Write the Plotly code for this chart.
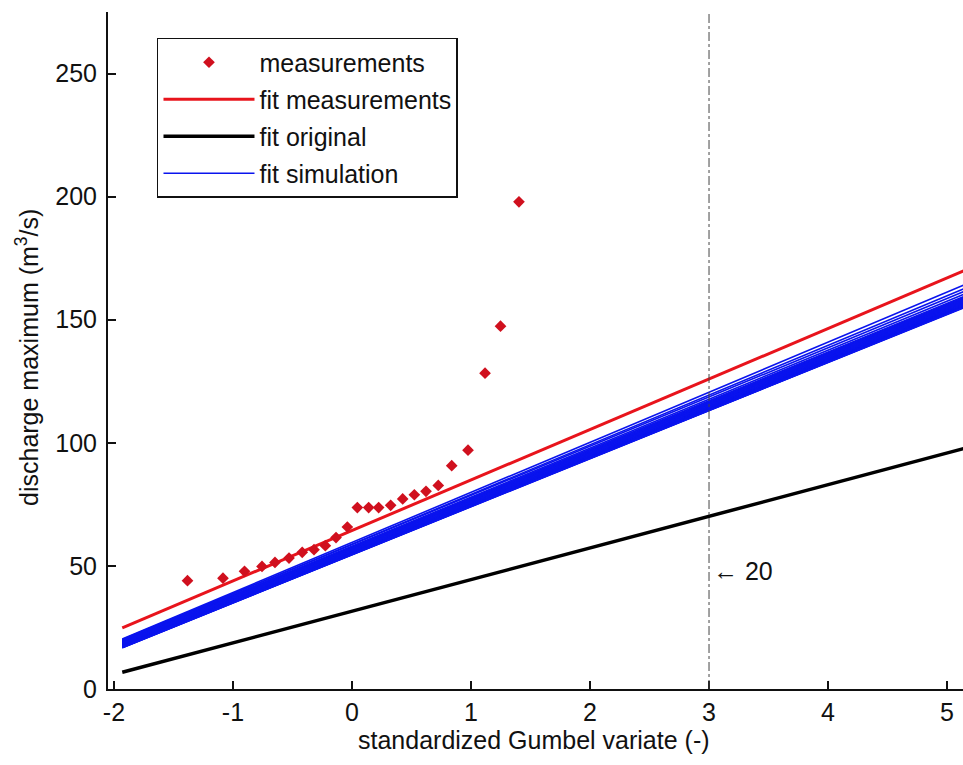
import plotly.graph_objects as go

# ---- data ----
meas_x = [-1.382, -1.084, -0.903, -0.756, -0.647, -0.529, -0.418, -0.319, -0.224, -0.134,
          -0.039, 0.045, 0.140, 0.224, 0.325, 0.426, 0.524, 0.622, 0.725, 0.838,
          0.975, 1.118, 1.248, 1.403]
meas_y = [44.0, 45.0, 47.8, 49.8, 51.4, 53.2, 55.5, 56.6, 58.2, 61.5,
          65.8, 73.7, 73.7, 73.7, 74.6, 77.2, 78.9, 80.3, 82.7, 90.7,
          97.0, 128.3, 147.4, 197.9]

fit_x = [-1.93, 5.3]
fit_meas_y = [24.8, 173.1]
fit_orig_y = [6.8, 99.7]

# simulation fit lines: value at x=-1.93 and at x=5.3
sim_start = [20.3, 19.9, 20.1, 19.6, 19.4, 19.8, 19.2, 19.0, 18.8, 19.3,
             18.6, 18.9, 18.4, 18.2, 18.7, 18.0, 17.8, 18.3, 17.6, 17.9,
             17.4, 17.2, 17.7, 17.0, 17.5, 16.9, 17.3, 16.8, 17.1, 16.8]
sim_end = [167.3, 165.8, 164.6, 163.5, 162.6, 162.2, 161.9, 161.6, 161.3, 161.0,
           160.8, 160.5, 160.3, 160.1, 159.9, 159.7, 159.5, 159.3, 159.2, 159.0,
           158.9, 158.8, 158.7, 158.6, 158.5, 158.4, 158.3, 158.2, 158.1, 158.0]

x_tickvals = [-2, -1, 0, 1, 2, 3, 4, 5]
x_ticktext = ["-2", "-1", "0", "1", "2", "3", "4", "5"]
y_tickvals = [0, 50, 100, 150, 200, 250]
y_ticktext = ["0", "50", "100", "150", "200", "250"]

return_period_x = 3
return_period_label = "\u2190 20"

FONT = "Liberation Sans, Arial, sans-serif"
FS = 25

sim_x, sim_y = [], []
for a, b in zip(sim_start, sim_end):
    sim_x += [fit_x[0], fit_x[1], None]
    sim_y += [a, b, None]

fig = go.Figure()
# simulation lines drawn first (beneath the others)
fig.add_trace(go.Scatter(x=sim_x, y=sim_y, mode="lines", name="fit simulation",
                         legendgroup="g4", legendrank=4,
                         line=dict(color="#0a14ee", width=1.6)))
fig.add_trace(go.Scatter(x=fit_x, y=fit_meas_y, mode="lines", name="fit measurements",
                         legendgroup="g2", legendrank=2,
                         line=dict(color="#e8141c", width=3)))
fig.add_trace(go.Scatter(x=fit_x, y=fit_orig_y, mode="lines", name="fit original",
                         legendgroup="g3", legendrank=3,
                         line=dict(color="#000000", width=3.5)))
fig.add_trace(go.Scatter(x=meas_x, y=meas_y, mode="markers", name="measurements",
                         legendgroup="g1", legendrank=1,
                         marker=dict(symbol="diamond", size=9, color="#d0101e")))

fig.add_shape(type="line", xref="x", yref="paper", x0=return_period_x, x1=return_period_x,
              y0=0, y1=1, line=dict(color="#444444", width=1, dash="dashdot"))

fig.add_annotation(x=return_period_x, y=48, xref="x", yref="y", text=return_period_label,
                   showarrow=False, xanchor="left", xshift=2,
                   font=dict(family=FONT, size=FS, color="#111"))

fig.add_annotation(x=0.498, y=-0.0753, xref="paper", yref="paper",
                   text="standardized Gumbel variate (-)", showarrow=False,
                   xanchor="center", yanchor="middle",
                   font=dict(family=FONT, size=FS, color="#111"))
fig.add_annotation(x=-0.0947, y=0.489, xref="paper", yref="paper",
                   text="discharge maximum (m<sup>3</sup>/s)", showarrow=False,
                   textangle=-90, xanchor="center", yanchor="middle",
                   font=dict(family=FONT, size=FS, color="#111"))

fig.update_layout(
    width=963, height=765,
    margin=dict(l=108, r=0, t=12, b=76),
    paper_bgcolor="white", plot_bgcolor="white",
    font=dict(family=FONT, size=FS, color="#111"),
    showlegend=True,
    legend=dict(x=0.0573, y=0.9616, xanchor="left", yanchor="top",
                bgcolor="white", bordercolor="#111", borderwidth=1.5,
                traceorder="grouped", tracegroupgap=1.5, itemwidth=91,
                font=dict(family=FONT, size=FS, color="#111")),
    xaxis=dict(range=[-2.05, 5.134], tickvals=x_tickvals, ticktext=x_ticktext,
               showgrid=False, zeroline=False, showline=True, linecolor="#111",
               linewidth=2, ticks="inside", ticklen=8, tickwidth=1.5, tickcolor="#111",
               mirror=False),
    yaxis=dict(range=[0, 275], tickvals=y_tickvals, ticktext=y_ticktext,
               showgrid=False, zeroline=False, showline=True, linecolor="#111",
               linewidth=2, ticks="inside", ticklen=8, tickwidth=1.5, tickcolor="#111",
               mirror=False, ticklabelstandoff=4),
)

fig.write_html("out.html")
